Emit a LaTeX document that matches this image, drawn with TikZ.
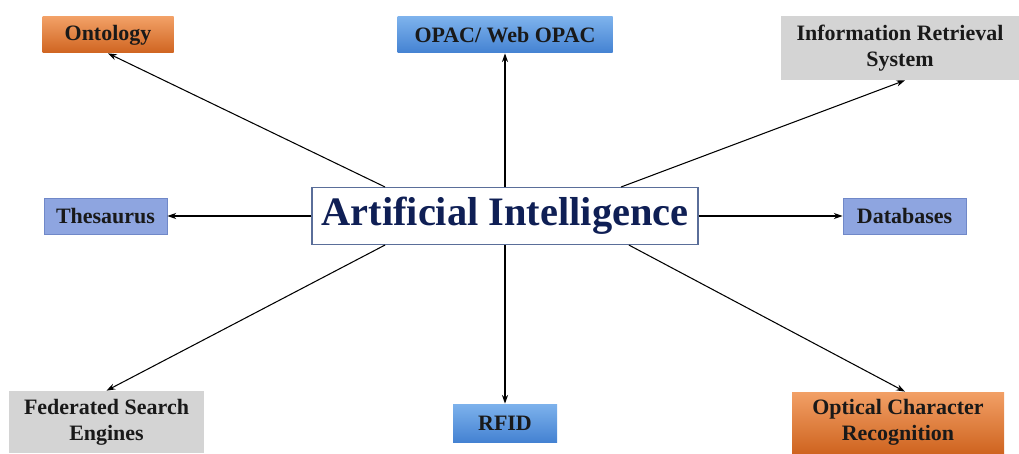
\documentclass[tikz,border=0pt]{standalone}
\usepackage{fontspec}
\setmainfont{Liberation Serif}
\definecolor{aiblue}{HTML}{0F1F55}
\definecolor{aiedge}{HTML}{5A6E99}
\definecolor{orgtop}{HTML}{F2A066}
\definecolor{orgbot}{HTML}{CF6420}
\definecolor{bluetop}{HTML}{7DB2EC}
\definecolor{bluebot}{HTML}{4482D2}
\definecolor{peri}{HTML}{8EA5E0}
\definecolor{periedge}{HTML}{7088C8}
\definecolor{greybox}{HTML}{D4D4D4}
\usetikzlibrary{calc, positioning, arrows.meta}

\begin{document}
\begin{tikzpicture}[
  bx/.style={inner sep=0pt, align=center, font=\fontsize{12.5}{15}\selectfont\bfseries, text=black!90},
  orange/.style={bx, top color=orgtop, bottom color=orgbot},
  blue/.style={bx, top color=bluetop, bottom color=bluebot},
  peri/.style={bx, draw=periedge, fill=peri, line width=0.5pt},
  grey/.style={bx, fill=greybox},
  arr/.style={-{Stealth[length=5pt, width=3.5pt]}, line width=0.6pt, black},
]
\useasboundingbox (0,0) rectangle (20.38,9.06);

% Centre node
\node[draw=aiedge, line width=0.6pt, fill=white, minimum width=7.72cm, minimum height=1.14cm,
      font=\fontsize{23}{27}\selectfont\bfseries, text=aiblue] (ai) at (10.10,4.74) {Artificial Intelligence};

% Top row
\node[orange, minimum width=2.62cm, minimum height=0.72cm] (onto) at (2.16,8.36) {Ontology};
\node[blue, minimum width=4.30cm, minimum height=0.72cm] (opac) at (10.10,8.36) {OPAC/ Web OPAC};
\node[grey, minimum width=4.76cm, minimum height=1.28cm] (irs) at (18.00,8.10) {Information Retrieval\\System};

% Middle row
\node[peri, minimum width=2.46cm, minimum height=0.72cm] (thes) at (2.11,4.74) {Thesaurus};
\node[peri, minimum width=2.46cm, minimum height=0.72cm] (db) at (18.09,4.74) {Databases};

% Bottom row
\node[grey, minimum width=3.90cm, minimum height=1.24cm] (fse) at (2.13,0.62) {Federated Search\\Engines};
\node[blue, minimum width=2.08cm, minimum height=0.76cm] (rfid) at (10.10,0.60) {RFID};
\node[orange, minimum width=4.24cm, minimum height=1.22cm] (ocr) at (17.96,0.61) {Optical Character\\Recognition};

% Arrows
\draw[arr] ($(ai.north west)!0.19!(ai.north east)$) -- (onto.south);
\draw[arr] (ai.north) -- (opac.south);
\draw[arr] ($(ai.north west)!0.80!(ai.north east)$) -- ($(irs.south)+(0.1,0)$);
\draw[arr] (ai.west) -- (thes.east);
\draw[arr] (ai.east) -- (db.west);
\draw[arr] ($(ai.south west)!0.19!(ai.south east)$) -- (fse.north);
\draw[arr] (ai.south) -- (rfid.north);
\draw[arr] ($(ai.south west)!0.82!(ai.south east)$) -- ($(ocr.north)+(0.14,0)$);

\end{tikzpicture}
\end{document}
